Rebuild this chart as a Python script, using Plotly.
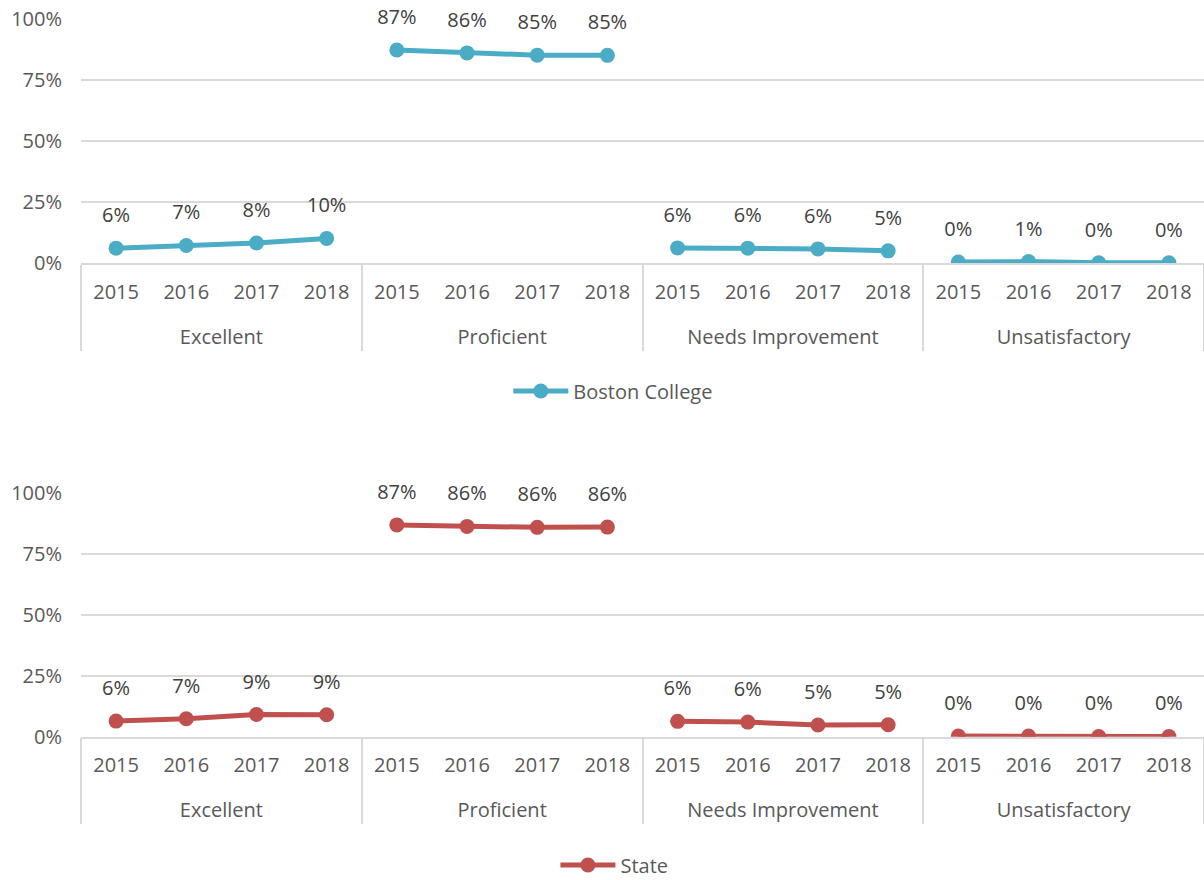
import plotly.graph_objects as go
from plotly.subplots import make_subplots

categories = ["Excellent", "Proficient", "Needs Improvement", "Unsatisfactory"]
years = ["2015", "2016", "2017", "2018"]

# values per category, in the order of the years
boston_college = {
    "Excellent": [0.061, 0.072, 0.082, 0.101],
    "Proficient": [0.873, 0.861, 0.852, 0.851],
    "Needs Improvement": [0.062, 0.061, 0.058, 0.050],
    "Unsatisfactory": [0.004, 0.006, 0.001, 0.001],
}
state = {
    "Excellent": [0.064, 0.074, 0.091, 0.090],
    "Proficient": [0.868, 0.862, 0.858, 0.859],
    "Needs Improvement": [0.063, 0.060, 0.048, 0.049],
    "Unsatisfactory": [0.003, 0.003, 0.001, 0.001],
}

series = [("Boston College", boston_college, "#4BACC6", 1, "legend"),
          ("State", state, "#C0504D", 2, "legend2")]

FONT = "Open Sans"
FS = 20
TICK_COLOR = "#595959"
LABEL_COLOR = "#404040"
GRID = "#D9D9D9"

fig = make_subplots(rows=2, cols=1)

for name, data, color, row, leg in series:
    for i, cat in enumerate(categories):
        x = [["<br>" + cat] * len(years), years]
        fig.add_trace(go.Scatter(
            x=x, y=data[cat], mode="lines+markers", name=name,
            line=dict(color=color, width=5), marker=dict(color=color, size=15),
            showlegend=(i == 0), legend=leg, legendgroup=name,
            hoverinfo="skip",
        ), row=row, col=1)
        fig.add_trace(go.Scatter(
            x=x, y=data[cat], mode="markers+text",
            marker=dict(color="rgba(0,0,0,0)", size=32),
            text=data[cat], texttemplate="%{y:.0%}", textposition="top center",
            textfont=dict(family=FONT, size=FS, color=LABEL_COLOR),
            showlegend=False, hoverinfo="skip", cliponaxis=False,
        ), row=row, col=1)

n_points = len(categories) * len(years)
axis_common = dict(
    type="multicategory", range=[-0.5, n_points - 0.5], autorange=False,
    showgrid=False, showline=True, linecolor=GRID, linewidth=1.5,
    dividercolor=GRID, dividerwidth=1.5, ticks="", automargin=False,
    ticklabelstandoff=10,
    tickfont=dict(family=FONT, size=FS, color=TICK_COLOR),
)
yaxis_common = dict(
    range=[0, 1], autorange=False, tickvals=[0, 0.25, 0.5, 0.75, 1.0], tickformat=".0%",
    showgrid=True, gridcolor=GRID, gridwidth=1.5, zeroline=False, showline=False,
    ticks="", ticklabelstandoff=18, automargin=False,
    tickfont=dict(family=FONT, size=FS, color=TICK_COLOR),
)

legend_common = dict(orientation="h", xanchor="center", yanchor="middle", itemwidth=55,
                     font=dict(family=FONT, size=FS, color=TICK_COLOR))

fig.update_layout(
    width=1204, height=880,
    margin=dict(l=81, r=0, t=0, b=0, autoexpand=False),
    paper_bgcolor="white", plot_bgcolor="white",
    font=dict(family=FONT, size=FS, color=TICK_COLOR),
    xaxis=dict(axis_common, domain=[0, 1]),
    xaxis2=dict(axis_common, domain=[0, 1]),
    yaxis=dict(yaxis_common, domain=[0.7011, 0.9784]),
    yaxis2=dict(yaxis_common, domain=[0.1628, 0.4401]),
    legend=dict(legend_common, x=0.474, y=0.5557),
    legend2=dict(legend_common, x=0.475, y=0.017),
)

fig.write_html("out.html", config={"displayModeBar": False},
               post_script="document.body.style.margin='0';")
